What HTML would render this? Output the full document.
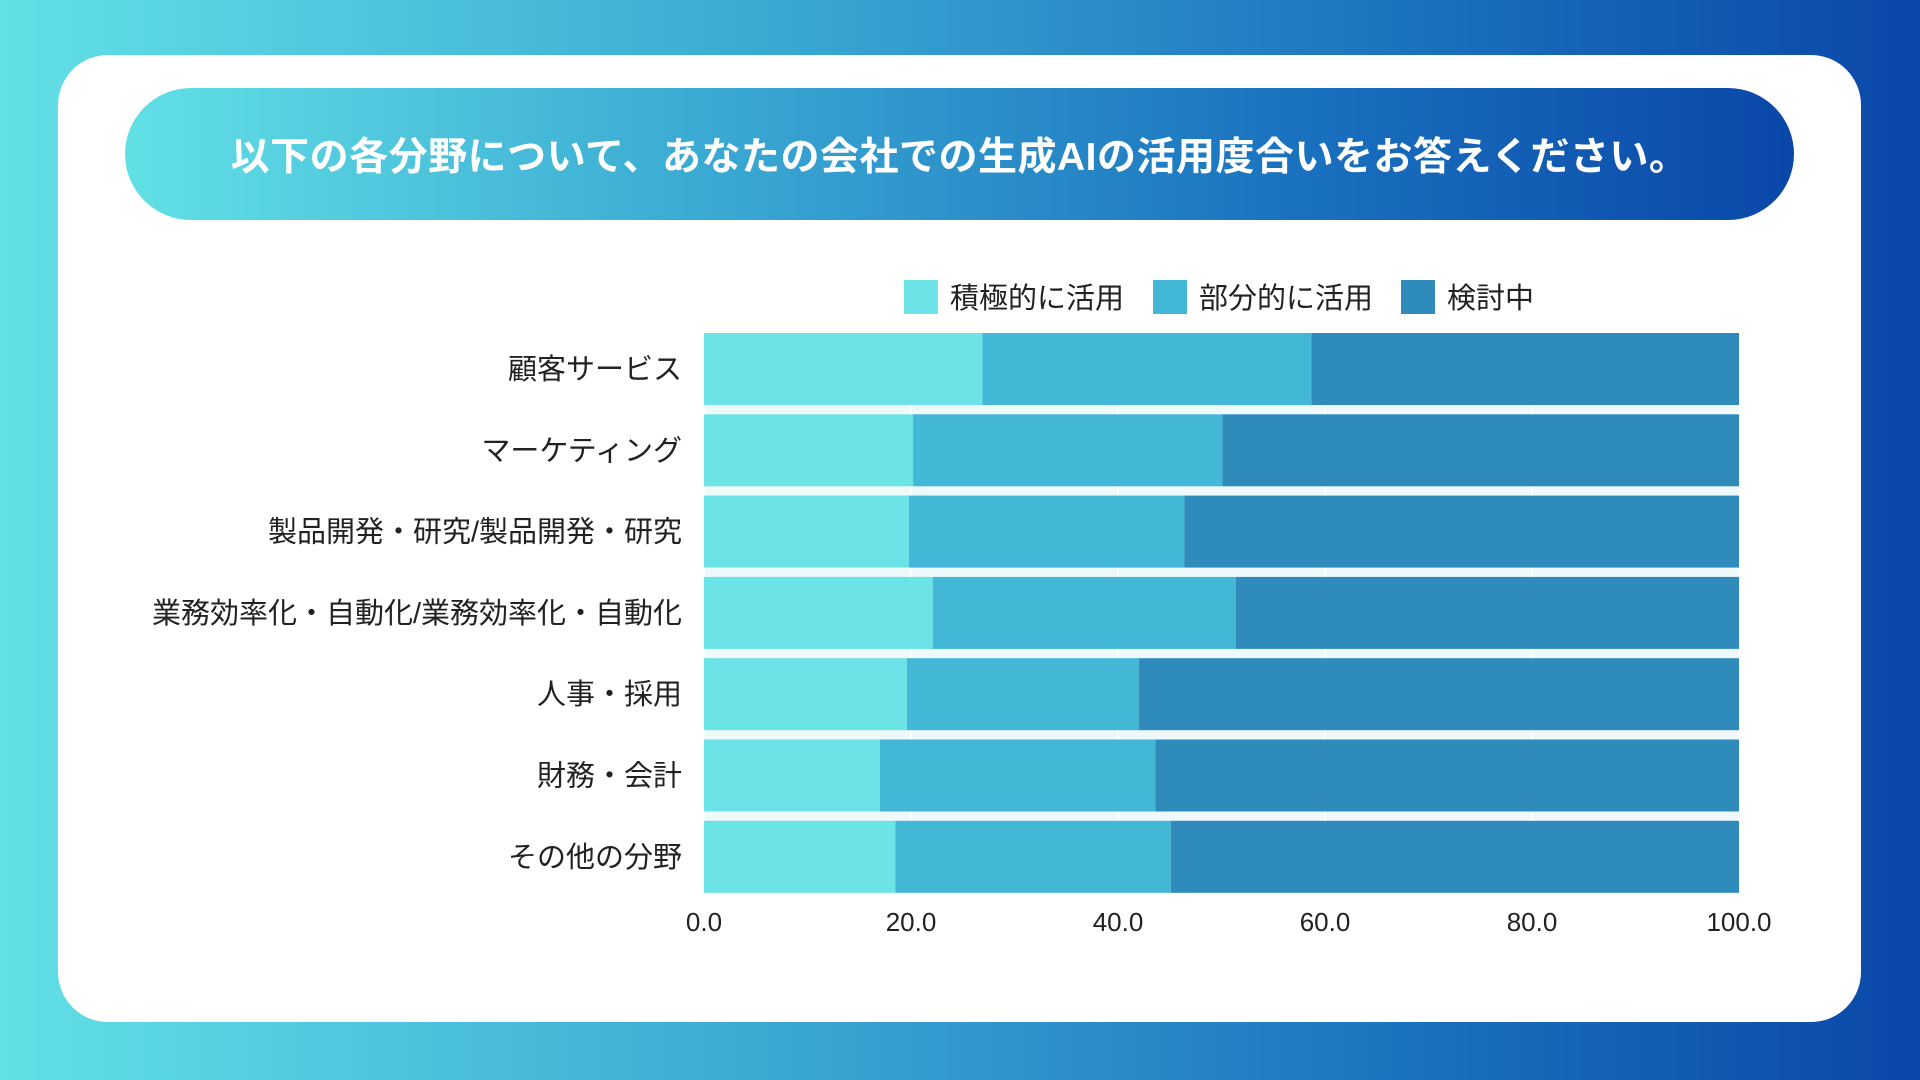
<!DOCTYPE html>
<html><head><meta charset="utf-8">
<style>
html,body{margin:0;padding:0;width:1920px;height:1080px;overflow:hidden;}
body{background:linear-gradient(90deg,#62e0e5 0%,#3aa9d3 40%,#1a6fbd 75%,#0a47a8 100%);font-family:"Liberation Sans","Noto Sans CJK JP",sans-serif;position:relative;}
#card{position:absolute;left:58px;top:55px;width:1803px;height:967px;background:#fff;border-radius:50px;}
#title{position:absolute;left:125px;top:88px;width:1669px;height:132px;border-radius:66px;background:linear-gradient(90deg,#62e0e5 0%,#3aa9d3 35%,#1a72bf 70%,#0a47a8 100%);color:#fff;font-weight:bold;font-size:39px;display:flex;align-items:center;justify-content:center;letter-spacing:0.5px;}
svg{position:absolute;left:0;top:0;}
</style></head>
<body>
<div id="card"></div>
<div id="title">以下の各分野について、あなたの会社での生成AIの活用度合いをお答えください。</div>
<svg id="chart" width="1920" height="1080"></svg>
<script>
const categories=["顧客サービス","マーケティング","製品開発・研究/製品開発・研究","業務効率化・自動化/業務効率化・自動化","人事・採用","財務・会計","その他の分野"];
const activeUse=[26.9,20.2,19.8,22.1,19.6,17.0,18.5];
const partialUse=[31.8,29.9,26.6,29.3,22.4,26.6,26.6];
const considering=[41.3,49.9,53.6,48.6,58.0,56.4,54.9];
const seriesNames=["積極的に活用","部分的に活用","検討中"];
const tickValues=[0,20,40,60,80,100];
const tickLabels=["0.0","20.0","40.0","60.0","80.0","100.0"];

const NS="http://www.w3.org/2000/svg";
const svg=document.getElementById('chart');
const colors=["#6be3e7","#42b7d6","#2e8bbb"];
const x0=704,x1=1739,yTop=333,pitch=81.3,barH=72;
const xs=v=>x0+(x1-x0)*v/100;
const yb=i=>yTop+i*pitch;
function mk(tag,attrs){const e=document.createElementNS(NS,tag);for(const k in attrs)e.setAttribute(k,attrs[k]);svg.appendChild(e);return e;}
const bg=mk('rect',{x:x0,y:yTop,width:x1-x0,height:yb(categories.length-1)+barH-yTop,fill:"#eef9fb"});


tickValues.forEach((v,i)=>{
  const g=mk('line',{x1:xs(v),x2:xs(v),y1:yTop,y2:yb(categories.length-1)+barH,stroke:"#ffffff","stroke-width":2});
  
  
  const t=mk('text',{x:xs(v),y:931,"text-anchor":"middle","font-size":26,fill:"#222"});
  t.textContent=tickLabels[i];
  
  
});
const series=[activeUse,partialUse,considering];
categories.forEach((c,i)=>{
  let acc=0;
  series.forEach((s,k)=>{
    const r=mk('rect',{x:xs(acc),y:yb(i),width:xs(acc+s[i])-xs(acc),height:barH,fill:colors[k]});
    
    
    acc+=s[i];
  });
  const t=mk('text',{x:682,y:yb(i)+barH/2+10,"text-anchor":"end","font-size":29,fill:"#222"});
  t.textContent=c;
  
  
});
const legX=[904,1153,1401];
seriesNames.forEach((n,k)=>{
  const r=mk('rect',{x:legX[k],y:280,width:34,height:34,fill:colors[k]});
  
  
  const t=mk('text',{x:legX[k]+46,y:308,"font-size":29,fill:"#222"});
  t.textContent=n;
  
  
});
</script>
</body></html>
